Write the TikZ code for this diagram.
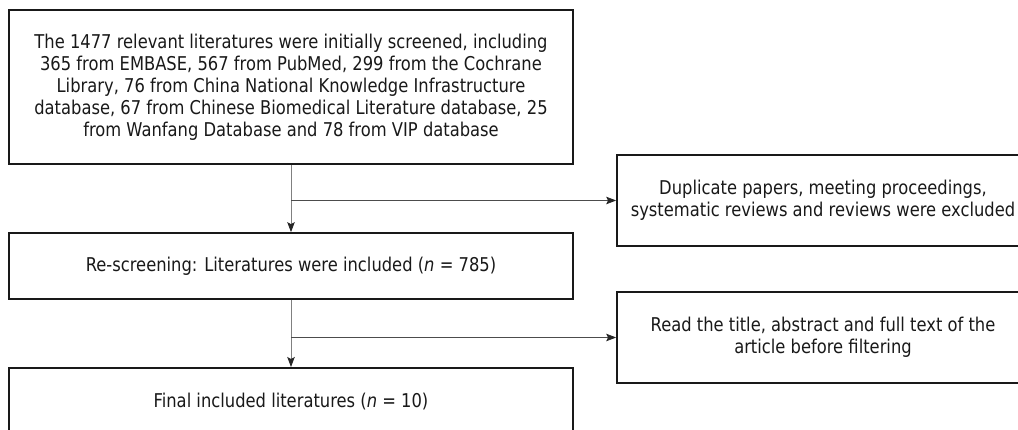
\documentclass[tikz,border=0pt]{standalone}
\usepackage{fontspec}
\setmainfont{DejaVu Sans}[FakeStretch=0.86]
\usetikzlibrary{arrows.meta}
\begin{document}
\begin{tikzpicture}[x=1pt,y=-1pt,
  box/.style={draw=black!90, line width=1.7pt, align=center, inner sep=0pt,
    font=\fontsize{19}{22}\selectfont, text=black!90},
  conn/.style={draw=black!50, line width=0.9pt},
  hconn/.style={draw=black!70, line width=0.7pt},
  tip/.style={-{Stealth[length=10pt,width=7.5pt,inset=2pt,color=black!85]}}
]
\useasboundingbox (0,0) rectangle (1018,430);
\fill[white] (0,0) rectangle (1018,430);
\node[box, minimum width=564pt, minimum height=154pt] (b1) at (291,87)
  {The 1477 relevant literatures were initially screened, including\\
   365 from EMBASE, 567 from PubMed, 299 from the Cochrane\\
   Library, 76 from China National Knowledge Infrastructure\\
   database, 67 from Chinese Biomedical Literature database, 25\\
   from Wanfang Database and 78 from VIP database};
\node[box, minimum width=412pt, minimum height=91pt] (b2) at (823,200.5)
  {Duplicate papers, meeting proceedings,\\ systematic reviews and reviews were excluded};
\node[box, minimum width=564pt, minimum height=66pt] (b3) at (291,266)
  {Re-screening: Literatures were included (\textit{n} = 785)};
\node[box, minimum width=412pt, minimum height=91pt] (b4) at (823,337.5)
  {Read the title, abstract and full text of the\\ article before filtering};
\node[box, anchor=north, minimum width=564pt, text height=40pt, text depth=30pt] (b5) at (291,367)
  {Final included literatures (\textit{n} = 10)};
\coordinate (j1) at (b1.south |- b2.west);
\coordinate (j2) at (b3.south |- b4.west);
\draw[conn, tip] (b1.south) -- (b3.north);
\draw[hconn, tip] (j1) -- (b2.west);
\draw[conn, tip] (b3.south) -- (b5.north);
\draw[hconn, tip] (j2) -- (b4.west);
\end{tikzpicture}
\end{document}
